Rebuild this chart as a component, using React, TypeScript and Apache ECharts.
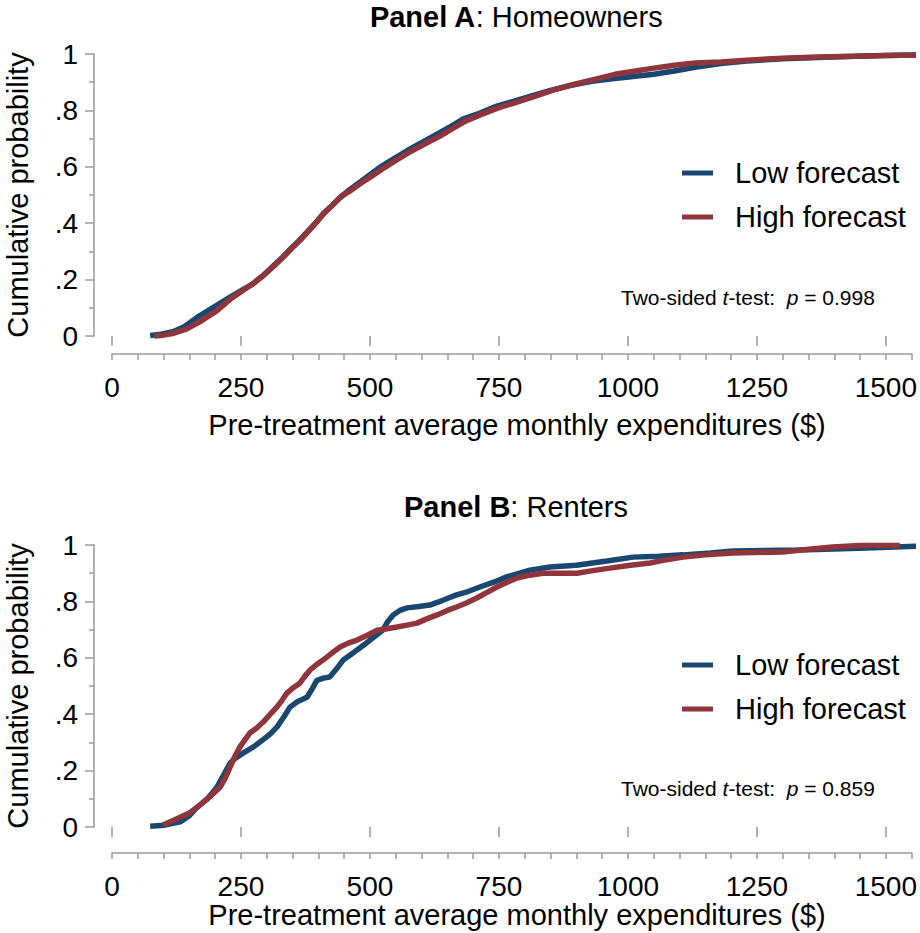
import React, { useEffect, useRef } from "react";
import * as echarts from "echarts";

const FONT = "'Liberation Sans', Arial, Helvetica, sans-serif";
const NAVY = "#1a476f";
const MAROON = "#90353b";
const AXIS = "#9a9a9a";

const seriesNames = ["Low forecast", "High forecast"];
const xMajorTicks = [0, 250, 500, 750, 1000, 1250, 1500];
const yTicks = [0, 0.2, 0.4, 0.6, 0.8, 1];
const panelTitles = ["Panel A", "Panel B"];
const panelSubtitles = ["Homeowners", "Renters"];
const pValues = ["0.998", "0.859"];
const xTitle = "Pre-treatment average monthly expenditures ($)";
const yTitle = "Cumulative probability";

// Panel A: Homeowners
const homeLow = [[74,0.002],[95,0.006],[118,0.015],[140,0.033],[165,0.066],[195,0.1],[229,0.138],[252,0.163],[273,0.185],[292,0.213],[312,0.247],[330,0.278],[345,0.307],[362,0.337],[378,0.368],[395,0.402],[409,0.433],[425,0.46],[442,0.49],[460,0.518],[481,0.546],[500,0.572],[519,0.598],[545,0.627],[571,0.656],[600,0.686],[630,0.716],[655,0.741],[680,0.769],[712,0.79],[746,0.815],[778,0.832],[810,0.85],[850,0.871],[890,0.889],[930,0.903],[970,0.912],[1010,0.92],[1050,0.928],[1090,0.94],[1130,0.953],[1180,0.966],[1230,0.975],[1300,0.983],[1370,0.988],[1440,0.992],[1500,0.995],[1566,0.997]];
const homeHigh = [[82,0.0],[100,0.003],[120,0.01],[145,0.025],[170,0.05],[200,0.085],[229,0.13],[255,0.163],[275,0.188],[295,0.217],[315,0.25],[332,0.28],[348,0.31],[365,0.34],[380,0.37],[396,0.403],[412,0.437],[428,0.465],[445,0.497],[462,0.515],[481,0.54],[502,0.565],[522,0.59],[548,0.62],[575,0.65],[605,0.68],[635,0.708],[660,0.735],[685,0.762],[715,0.785],[750,0.81],[782,0.828],[815,0.847],[855,0.872],[895,0.892],[935,0.91],[975,0.928],[1015,0.94],[1050,0.95],[1090,0.96],[1130,0.968],[1180,0.972],[1230,0.978],[1300,0.985],[1370,0.989],[1440,0.992],[1500,0.995],[1566,0.997]];

// Panel B: Renters
const rentLow = [[74,0.003],[100,0.006],[132,0.018],[150,0.04],[165,0.07],[185,0.1],[203,0.14],[215,0.18],[229,0.227],[240,0.245],[254,0.262],[275,0.285],[293,0.31],[307,0.33],[320,0.355],[333,0.39],[345,0.425],[360,0.445],[378,0.46],[388,0.49],[397,0.52],[410,0.528],[422,0.532],[435,0.56],[448,0.592],[462,0.61],[475,0.628],[488,0.645],[500,0.663],[512,0.68],[525,0.698],[535,0.73],[545,0.752],[558,0.768],[572,0.777],[595,0.782],[616,0.787],[640,0.803],[668,0.823],[690,0.835],[713,0.851],[740,0.868],[765,0.887],[790,0.9],[810,0.911],[849,0.922],[900,0.928],[959,0.943],[1010,0.957],[1060,0.96],[1107,0.965],[1160,0.972],[1204,0.979],[1333,0.982],[1463,0.989],[1566,0.996]];
const rentHigh = [[99,0.007],[115,0.02],[132,0.035],[150,0.05],[165,0.07],[188,0.105],[209,0.14],[220,0.175],[229,0.213],[238,0.25],[248,0.284],[258,0.31],[267,0.333],[280,0.35],[293,0.372],[307,0.4],[320,0.426],[330,0.45],[339,0.475],[352,0.495],[364,0.51],[374,0.535],[384,0.557],[396,0.575],[409,0.592],[425,0.615],[442,0.638],[458,0.652],[475,0.663],[495,0.68],[514,0.698],[533,0.703],[552,0.709],[572,0.716],[591,0.723],[610,0.738],[630,0.752],[650,0.768],[668,0.78],[688,0.795],[707,0.812],[727,0.832],[746,0.851],[766,0.868],[785,0.883],[810,0.893],[835,0.9],[901,0.9],[935,0.91],[965,0.918],[1005,0.928],[1043,0.936],[1075,0.948],[1107,0.957],[1150,0.965],[1204,0.972],[1300,0.975],[1350,0.985],[1397,0.993],[1450,0.998],[1527,0.998]];

const panels = [
  { top: 54, xOffset: 18, low: homeLow, high: homeHigh, titleY: 17, legendTop: 151, noteY: 297, xLabelMargin: 19, xTitleY: 425, yTitleY: 195 },
  { top: 545, xOffset: 26, low: rentLow, high: rentHigh, titleY: 507, legendTop: 643, noteY: 788, xLabelMargin: 19, xTitleY: 915, yTitleY: 686 },
];

function buildOption() {
  const grid: any[] = [];
  const xAxis: any[] = [];
  const yAxis: any[] = [];
  const series: any[] = [];
  const legend: any[] = [];
  const graphic: any[] = [];

  panels.forEach((p, i) => {
    grid.push({ left: 112, top: p.top, width: 800, height: 282, containLabel: false });
    // major ticks + labels
    xAxis.push({
      gridIndex: i, type: "value", position: "bottom", min: 0, max: 1550, interval: 250, offset: p.xOffset,
      axisLine: { show: false },
      axisTick: { show: true, length: 10, customValues: xMajorTicks, lineStyle: { color: AXIS, width: 1.5 } },
      axisLabel: {
        show: true, customValues: xMajorTicks, margin: p.xLabelMargin, fontSize: 28, color: "#000", fontFamily: FONT,
        formatter: (v: number) => (v > 1500 ? "" : String(v)),
      },
      splitLine: { show: false },
    });
    // minor ticks + axis line
    xAxis.push({
      gridIndex: i, type: "value", position: "bottom", min: 0, max: 1550, interval: 50, offset: p.xOffset,
      axisLine: { show: true, onZero: false, lineStyle: { color: AXIS, width: 1.5 } },
      axisTick: { show: true, length: 6, lineStyle: { color: AXIS, width: 1.5 } },
      axisLabel: { show: false },
      splitLine: { show: false },
    });
    yAxis.push({
      gridIndex: i, type: "value", position: "left", min: 0, max: 1, interval: 0.2, offset: 18,
      axisLine: { show: true, onZero: false, lineStyle: { color: AXIS, width: 1.5 } },
      axisTick: { show: true, length: 9, lineStyle: { color: AXIS, width: 1.5 } },
      minorTick: { show: true, splitNumber: 2, length: 5, lineStyle: { color: AXIS, width: 1.5 } },
      axisLabel: {
        show: true, margin: 16, fontSize: 28, color: "#000", fontFamily: FONT,
        formatter: (v: number) => (v === 0 ? "0" : v >= 1 ? "1" : "." + Math.round(v * 10)),
      },
      splitLine: { show: false },
      minorSplitLine: { show: false },
    });
    const mk = (name: string, data: number[][], color: string) => ({
      name, type: "line", xAxisIndex: i * 2 + 1, yAxisIndex: i, data,
      showSymbol: false, symbol: "none", clip: false, smooth: false,
      color, itemStyle: { color }, lineStyle: { color, width: 5.5 },
    });
    series.push(mk(seriesNames[0], p.low, NAVY));
    series.push(mk(seriesNames[1], p.high, MAROON));
    legend.push({
      data: seriesNames, orient: "vertical", left: 682, top: p.legendTop, padding: 0,
      itemGap: 0, itemWidth: 31, itemHeight: 5, icon: "rect", selectedMode: false,
      itemStyle: { borderWidth: 0 },
      textStyle: { fontSize: 29, lineHeight: 44, color: "#000", fontFamily: FONT, padding: [0, 0, 0, 17] },
    });
    graphic.push({
      type: "text", x: 516, y: p.titleY,
      style: {
        text: "{b|" + panelTitles[i] + "}: " + panelSubtitles[i],
        fontSize: 29, fontFamily: FONT, fontWeight: "normal", fill: "#000",
        align: "center", verticalAlign: "middle", textAlign: "center", textVerticalAlign: "middle",
        rich: { b: { fontSize: 29, fontFamily: FONT, fontWeight: "bold", fill: "#000", color: "#000" } },
      },
    });
    graphic.push({
      type: "text", x: 621, y: p.noteY,
      style: {
        text: "Two-sided {i|t}-test:  {i|p} = " + pValues[i],
        fontSize: 21, fontFamily: FONT, fill: "#000",
        align: "left", verticalAlign: "middle", textAlign: "left", textVerticalAlign: "middle",
        rich: { i: { fontSize: 21, fontFamily: FONT, fontStyle: "italic", fill: "#000", color: "#000" } },
      },
    });
    graphic.push({
      type: "text", x: 517, y: p.xTitleY,
      style: {
        text: xTitle, fontSize: 29, fontFamily: FONT, fill: "#000",
        align: "center", verticalAlign: "middle", textAlign: "center", textVerticalAlign: "middle",
      },
    });
    graphic.push({
      type: "text", x: 18, y: p.yTitleY, rotation: Math.PI / 2,
      style: {
        text: yTitle, fontSize: 29, fontFamily: FONT, fill: "#000",
        align: "center", verticalAlign: "middle", textAlign: "center", textVerticalAlign: "middle",
      },
    });
  });

  return {
    animation: false,
    backgroundColor: "#ffffff",
    grid, xAxis, yAxis, series, legend, graphic,
  };
}

export default function App() {
  const ref = useRef<HTMLDivElement>(null);
  useEffect(() => {
    if (!ref.current) return;
    const chart = echarts.init(ref.current, null, { renderer: "svg" });
    chart.setOption(buildOption() as any);
    return () => chart.dispose();
  }, []);
  return (
    <div
      ref={ref}
      style={{ position: "absolute", left: 0, top: 0, width: 920, height: 933, background: "#fff" }}
    />
  );
}
